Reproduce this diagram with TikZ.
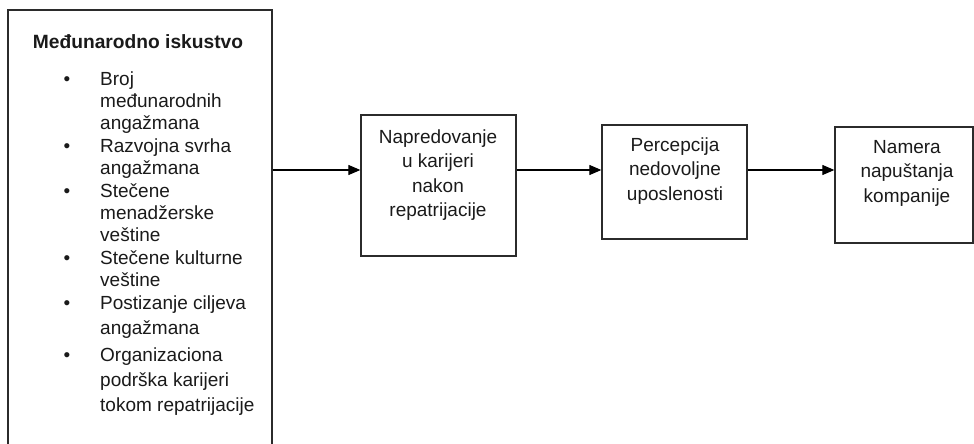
\documentclass[tikz,border=0pt]{standalone}
\usepackage{fontspec}
\setmainfont{Liberation Sans}
\usetikzlibrary{arrows.meta}
\definecolor{ink}{HTML}{1A1A1A}
\definecolor{edge}{HTML}{2B2B2B}
\tikzset{
  box/.style={draw=edge, line width=1.3pt, rectangle, inner sep=0pt},
  boxtext/.style={align=center, text=ink, font=\fontsize{19}{24.5}\selectfont, inner sep=0pt},
  itemtext/.style={align=left, anchor=base west, text=ink, inner sep=0pt},
  bul/.style={anchor=base, text=ink, inner sep=0pt, font=\fontsize{19}{22}\selectfont},
  conn/.style={draw=black, line width=1.2pt, -{Triangle[length=12pt,width=10pt]}}
}
\begin{document}
\begin{tikzpicture}[x=1pt,y=-1pt]
\useasboundingbox (0,0) rectangle (974,444);
\clip (0,0) rectangle (974,444);
% boxes
\node[box, minimum width=264pt, minimum height=460pt] (exp) at (140,240) {};
\node[box, minimum width=155pt, minimum height=141pt] (adv) at (438.5,185.5) {};
\node[box, minimum width=145pt, minimum height=114pt] (perc) at (674.5,182) {};
\node[box, minimum width=138pt, minimum height=116pt] (quit) at (904,185) {};
% title
\node[text=ink, inner sep=0pt, font=\fontsize{19.2}{22}\selectfont\bfseries] (title) at (138,42) {Međunarodno iskustvo};
% bullets
\node[bul] (b1) at (67,85) {•};
\node[bul] (b2) at (67,152) {•};
\node[bul] (b3) at (67,197) {•};
\node[bul] (b4) at (67,264) {•};
\node[bul] (b5) at (67,309) {•};
\node[bul] (b6) at (67,361) {•};
% items (base anchor = baseline of last line)
\node[itemtext, font=\fontsize{19}{22}\selectfont] (i1) at (100,129) {Broj\\međunarodnih\\angažmana};
\node[itemtext, font=\fontsize{19}{22}\selectfont] (i2) at (100,174) {Razvojna svrha\\angažmana};
\node[itemtext, font=\fontsize{19}{22}\selectfont] (i3) at (100,241) {Stečene\\menadžerske\\veštine};
\node[itemtext, font=\fontsize{19}{22}\selectfont] (i4) at (100,286) {Stečene kulturne\\veštine};
\node[itemtext, font=\fontsize{19}{25}\selectfont] (i5) at (100,334) {Postizanje ciljeva\\angažmana};
\node[itemtext, font=\fontsize{19}{25}\selectfont] (i6) at (100,411) {Organizaciona\\podrška karijeri\\tokom repatrijacije};
% box texts
\node[boxtext] (tadv) at (438,175) {Napredovanje\\u karijeri\\nakon\\repatrijacije};
\node[boxtext] (tperc) at (675,171) {Percepcija\\nedovoljne\\uposlenosti};
\node[boxtext] (tquit) at (907,173) {Namera\\napuštanja\\kompanije};
% connectors
\coordinate (row) at (0,170);
\draw[conn] (exp.east |- row) -- (adv.west |- row);
\draw[conn] (adv.east |- row) -- (perc.west |- row);
\draw[conn] (perc.east |- row) -- (quit.west |- row);
\end{tikzpicture}
\end{document}
